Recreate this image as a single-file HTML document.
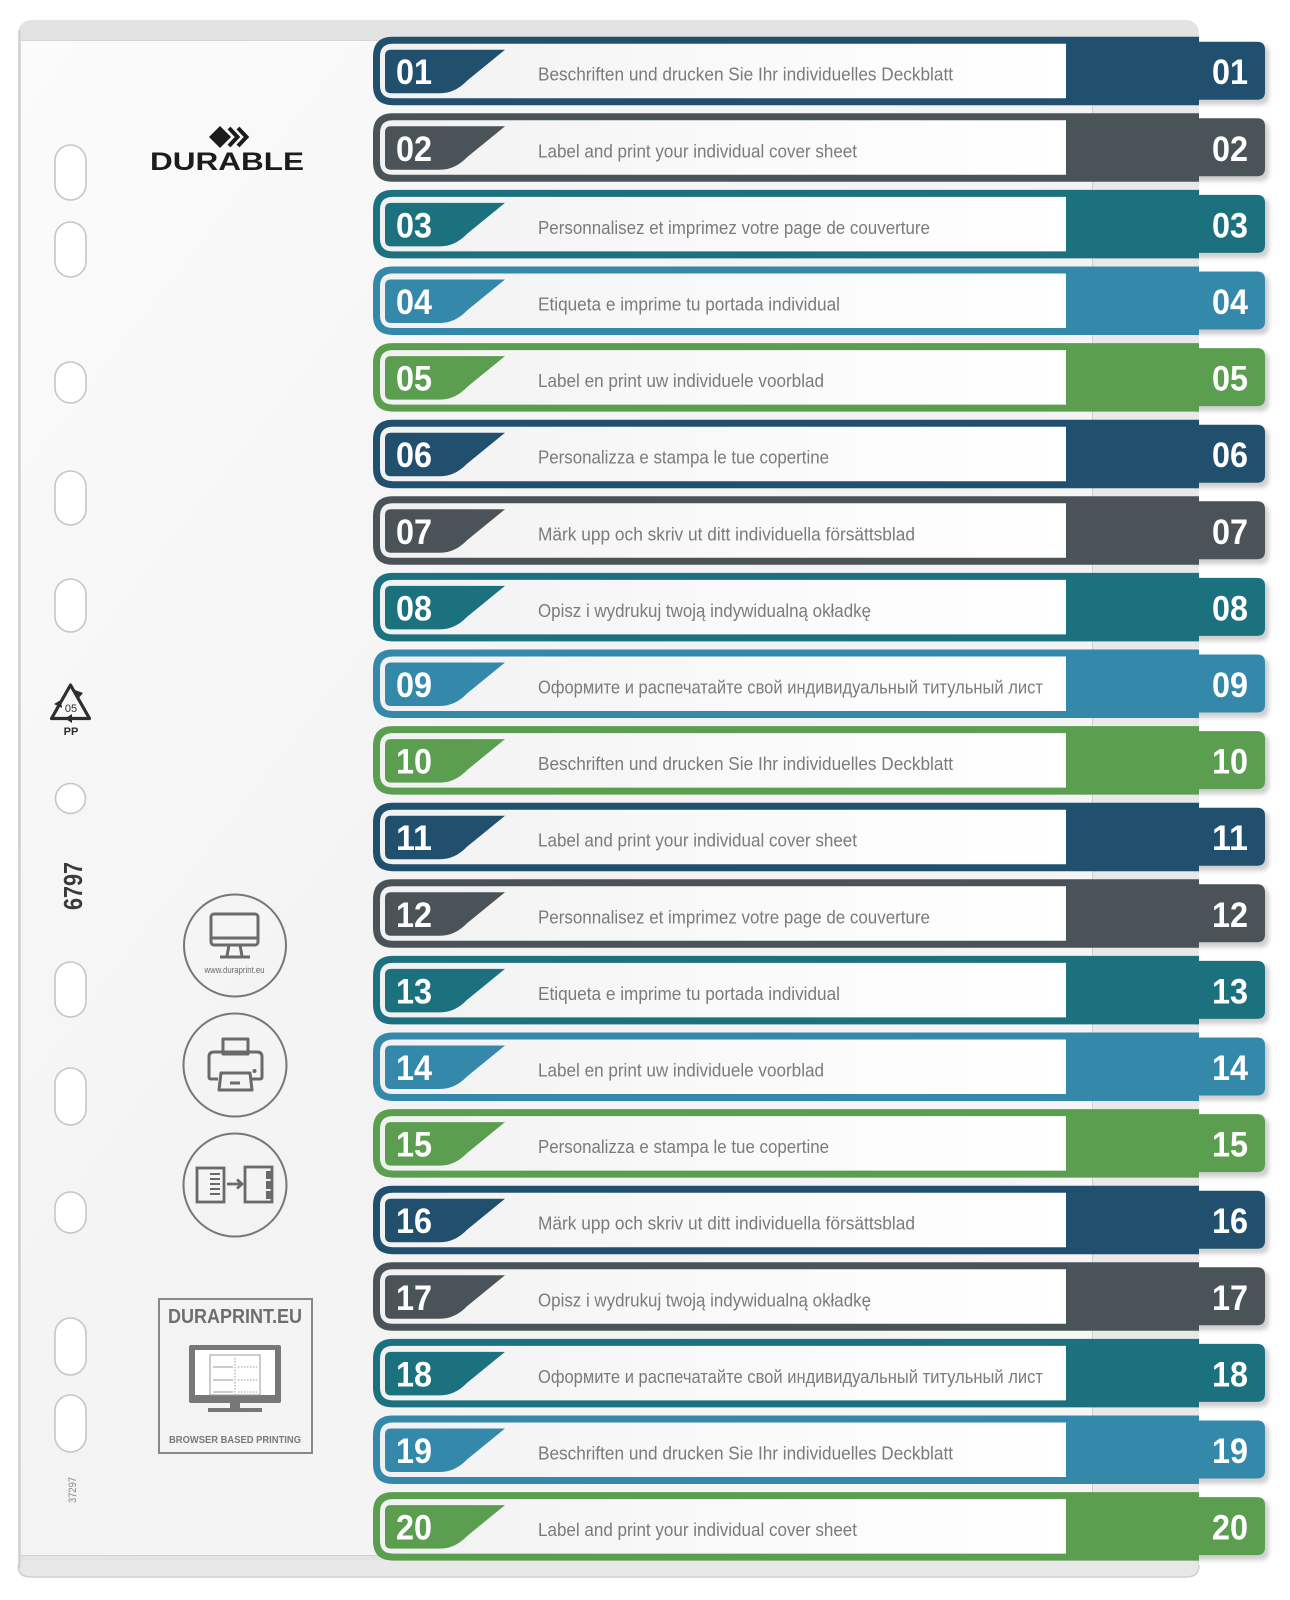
<!DOCTYPE html>
<html>
<head>
<meta charset="utf-8">
<style>
  html,body{margin:0;padding:0;background:#ffffff;}
  svg{display:block;}
  .lbl{font-family:"Liberation Sans","DejaVu Sans",sans-serif;font-size:18px;fill:#7a7b7d;}
  .num{font-family:"Liberation Sans","DejaVu Sans",sans-serif;font-size:35px;font-weight:bold;fill:#ffffff;}
</style>
</head>
<body>
<svg width="1290" height="1600" viewBox="0 0 1290 1600" xmlns="http://www.w3.org/2000/svg">
  <defs>
    <linearGradient id="sheetg" x1="0" y1="0" x2="1" y2="1">
      <stop offset="0" stop-color="#fbfbfb"/>
      <stop offset="0.5" stop-color="#f3f3f3"/>
      <stop offset="1" stop-color="#f7f7f7"/>
    </linearGradient>
    <linearGradient id="innerg" x1="0" y1="0" x2="1" y2="0">
      <stop offset="0" stop-color="#f1f1f1"/>
      <stop offset="0.4" stop-color="#f8f8f8"/>
      <stop offset="1" stop-color="#ffffff"/>
    </linearGradient>
    <filter id="blur" x="-20%" y="-20%" width="140%" height="140%">
      <feGaussianBlur stdDeviation="2"/>
    </filter>
    <path id="bar" d="M393 0 H1199 V68.5 H393 Q373 68.5 373 48.5 V20 Q373 0 393 0 Z"/>
    <path id="inner" fill="url(#innerg)" d="M393 7 H1066 V61.5 H393 Q380 61.5 380 48.5 V20 Q380 7 393 7 Z"/>
    <path id="num" d="M391 13 H505 L467 44 Q455 56.5 440 56.5 H391 Q385 56.5 385 50.5 V19 Q385 13 391 13 Z"/>
    <path id="tab" d="M1195 5 H1257 Q1265 5 1265 13 V55 Q1265 63 1257 63 H1195 Z"/>
    <path id="tabsh" fill="#cfcfcf" filter="url(#blur)" d="M1195 8 H1260 Q1269 8 1269 17 V59 Q1269 68 1260 68 H1195 Z"/>
  </defs>

  <!-- sheet -->
  <rect x="18" y="20" width="1181" height="1557" rx="13" fill="#e3e3e3"/>
  <rect x="18" y="1560" width="1181" height="17" rx="8" fill="#e8e8e8"/>
  <rect x="21" y="40" width="1178" height="1515" fill="url(#sheetg)"/>
  <line x1="21" y1="40.5" x2="1199" y2="40.5" stroke="#d6d6d6" stroke-width="1"/>
  <line x1="19.5" y1="30" x2="19.5" y2="1568" stroke="#cfcfcf" stroke-width="2"/>
  <line x1="21" y1="1555.5" x2="1199" y2="1555.5" stroke="#d2d2d2" stroke-width="1"/>
  <path d="M18 1565 Q18 1577 31 1577 H1186 Q1199 1577 1199 1565" fill="none" stroke="#d0d0d0" stroke-width="1.5"/>
  <!-- right grey strip behind bars -->
  <rect x="1092" y="41" width="107" height="1514" fill="#e9e9e9"/>
  <line x1="1092.5" y1="41" x2="1092.5" y2="1555" stroke="#cfcfcf" stroke-width="1"/>

  <!-- punch holes -->
  <g fill="#ffffff" stroke="#c6c6c6" stroke-width="1.6">
    <rect x="55" y="145" width="31" height="55" rx="15.5"/>
    <rect x="55" y="222" width="31" height="55" rx="15.5"/>
    <rect x="55" y="362" width="31" height="41" rx="15.5"/>
    <rect x="55" y="471" width="31" height="54" rx="15.5"/>
    <rect x="55" y="579" width="31" height="53" rx="15.5"/>
    <circle cx="70.5" cy="798.5" r="15"/>
    <rect x="55" y="962" width="31" height="55" rx="15.5"/>
    <rect x="55" y="1068" width="31" height="57" rx="15.5"/>
    <rect x="55" y="1192" width="31" height="41" rx="15.5"/>
    <rect x="55" y="1318" width="31" height="57" rx="15.5"/>
    <rect x="55" y="1395" width="31" height="57" rx="15.5"/>
  </g>

  <!-- DURABLE logo -->
  <polygon points="209,137 220,126 231,137 220,148" fill="#1c1c1e"/>
  <polyline points="229,128 237.5,137 229,146" fill="none" stroke="#1c1c1e" stroke-width="4"/>
  <polyline points="238,128 246.5,137 238,146" fill="none" stroke="#1c1c1e" stroke-width="4"/>
  <text x="150" y="170" font-family="'Liberation Sans','DejaVu Sans',sans-serif" font-size="25" font-weight="bold" fill="#1c1c1e" textLength="154" lengthAdjust="spacingAndGlyphs">DURABLE</text>

  <!-- recycle symbol -->
  <path d="M70.5 685 L89.5 718.5 L51.5 718.5 Z" fill="none" stroke="#2e2e2e" stroke-width="3.2" stroke-linejoin="round"/>
  <polygon points="75,690 83,693 78,699" fill="#2e2e2e"/>
  <polygon points="72,714 72,723 65,718.5" fill="#2e2e2e"/>
  <polygon points="54,704 61,700 62,708" fill="#2e2e2e"/>
  <text x="71" y="712" text-anchor="middle" font-family="'Liberation Sans',sans-serif" font-size="11" fill="#2e2e2e">05</text>
  <text x="71" y="735" text-anchor="middle" font-family="'Liberation Sans',sans-serif" font-size="11" font-weight="bold" fill="#2e2e2e">PP</text>

  <!-- 6797 -->
  <text transform="translate(82,886) rotate(-90)" text-anchor="middle" font-family="'Liberation Sans',sans-serif" font-size="26" font-weight="bold" fill="#3a3a3a" textLength="48" lengthAdjust="spacingAndGlyphs">6797</text>
  <!-- 37297 -->
  <text transform="translate(76,1490) rotate(-90)" text-anchor="middle" font-family="'Liberation Sans',sans-serif" font-size="11" fill="#8a8a8a" textLength="26" lengthAdjust="spacingAndGlyphs">37297</text>

  <!-- icon circles -->
  <g fill="none" stroke="#777777" stroke-width="2">
    <circle cx="235" cy="945.5" r="51"/>
    <circle cx="235" cy="1065" r="51.5"/>
    <circle cx="235" cy="1185" r="51.5"/>
  </g>
  <!-- monitor icon -->
  <g fill="none" stroke="#6a6a6a" stroke-width="3" stroke-linejoin="round">
    <rect x="211" y="914" width="47" height="31" rx="3"/>
    <line x1="211" y1="938" x2="258" y2="938"/>
    <path d="M229 945 L227 956 M240 945 L242 956"/>
    <line x1="220" y1="957" x2="250" y2="957"/>
  </g>
  <text x="234.5" y="973" text-anchor="middle" font-family="'Liberation Sans',sans-serif" font-size="9" fill="#6a6a6a" textLength="60" lengthAdjust="spacingAndGlyphs">www.duraprint.eu</text>
  <!-- printer icon -->
  <g fill="none" stroke="#6a6a6a" stroke-width="3" stroke-linejoin="round">
    <rect x="223" y="1039" width="25" height="15"/>
    <path d="M218 1079 H211 Q209 1079 209 1077 V1057 Q209 1052 214 1052 H257 Q262 1052 262 1057 V1077 Q262 1079 260 1079 H252"/>
    <path d="M221 1073 H250 L252 1090 H219 Z"/>
    <line x1="230" y1="1083" x2="240" y2="1083"/>
  </g>
  <circle cx="254.5" cy="1071" r="2" fill="#6a6a6a"/>
  <!-- doc -> divider icon -->
  <g fill="none" stroke="#6a6a6a" stroke-width="2.8">
    <rect x="197" y="1168" width="27" height="34"/>
    <rect x="245" y="1167" width="27" height="35"/>
    <path d="M227 1184 H241 M237 1179.5 L242 1184 L237 1188.5"/>
  </g>
  <g stroke="#6a6a6a" stroke-width="2">
    <line x1="210" y1="1174" x2="220" y2="1174"/>
    <line x1="210" y1="1179" x2="220" y2="1179"/>
    <line x1="210" y1="1184" x2="220" y2="1184"/>
    <line x1="210" y1="1189" x2="220" y2="1189"/>
    <line x1="210" y1="1194" x2="220" y2="1194"/>
  </g>
  <g fill="#6a6a6a">
    <rect x="266" y="1171" width="5" height="8"/>
    <rect x="266" y="1181" width="5" height="8"/>
    <rect x="266" y="1191" width="5" height="8"/>
  </g>

  <!-- DURAPRINT box -->
  <rect x="159" y="1299" width="153" height="154" fill="none" stroke="#888888" stroke-width="2"/>
  <text x="168" y="1323" font-family="'Liberation Sans',sans-serif" font-size="20" font-weight="bold" fill="#6e6e6e" textLength="134" lengthAdjust="spacingAndGlyphs">DURAPRINT.EU</text>
  <rect x="189" y="1345" width="92" height="58" rx="2" fill="#777777"/>
  <rect x="195" y="1350" width="80" height="45" fill="#ffffff"/>
  <rect x="210" y="1355" width="50" height="40" fill="#ffffff" stroke="#9a9a9a" stroke-width="1"/>
  <g stroke="#9a9a9a" stroke-width="1">
    <line x1="235" y1="1358" x2="235" y2="1395" stroke-dasharray="1.5 1.5"/>
    <line x1="213" y1="1367" x2="233" y2="1367"/>
    <line x1="213" y1="1380" x2="233" y2="1380"/>
    <line x1="213" y1="1392" x2="233" y2="1392"/>
    <line x1="238" y1="1367" x2="257" y2="1367" stroke-dasharray="1.5 1.5"/>
    <line x1="238" y1="1380" x2="257" y2="1380" stroke-dasharray="1.5 1.5"/>
    <line x1="238" y1="1392" x2="257" y2="1392" stroke-dasharray="1.5 1.5"/>
  </g>
  <rect x="230" y="1403" width="10" height="6" fill="#777777"/>
  <rect x="208" y="1408" width="54" height="4" fill="#777777"/>
  <text x="169" y="1443" font-family="'Liberation Sans',sans-serif" font-size="10.5" font-weight="bold" fill="#7a7a7a" textLength="132" lengthAdjust="spacingAndGlyphs">BROWSER BASED PRINTING</text>

  <!-- ROWS -->
  <g transform="translate(0,36.7)" fill="#21506f">
    <use href="#tabsh"/><use href="#tab"/><use href="#bar"/><use href="#inner"/><use href="#num"/>
    <text class="num" x="396" y="47.5" textLength="36" lengthAdjust="spacingAndGlyphs">01</text>
    <text class="num" x="1212" y="47.5" textLength="36" lengthAdjust="spacingAndGlyphs">01</text>
    <text class="lbl" x="538" y="44" textLength="415" lengthAdjust="spacingAndGlyphs">Beschriften und drucken Sie Ihr individuelles Deckblatt</text>
  </g>
  <g transform="translate(0,113.3)" fill="#4a5358">
    <use href="#tabsh"/><use href="#tab"/><use href="#bar"/><use href="#inner"/><use href="#num"/>
    <text class="num" x="396" y="47.5" textLength="36" lengthAdjust="spacingAndGlyphs">02</text>
    <text class="num" x="1212" y="47.5" textLength="36" lengthAdjust="spacingAndGlyphs">02</text>
    <text class="lbl" x="538" y="44" textLength="319" lengthAdjust="spacingAndGlyphs">Label and print your individual cover sheet</text>
  </g>
  <g transform="translate(0,189.9)" fill="#1c717f">
    <use href="#tabsh"/><use href="#tab"/><use href="#bar"/><use href="#inner"/><use href="#num"/>
    <text class="num" x="396" y="47.5" textLength="36" lengthAdjust="spacingAndGlyphs">03</text>
    <text class="num" x="1212" y="47.5" textLength="36" lengthAdjust="spacingAndGlyphs">03</text>
    <text class="lbl" x="538" y="44" textLength="392" lengthAdjust="spacingAndGlyphs">Personnalisez et imprimez votre page de couverture</text>
  </g>
  <g transform="translate(0,266.5)" fill="#3489aa">
    <use href="#tabsh"/><use href="#tab"/><use href="#bar"/><use href="#inner"/><use href="#num"/>
    <text class="num" x="396" y="47.5" textLength="36" lengthAdjust="spacingAndGlyphs">04</text>
    <text class="num" x="1212" y="47.5" textLength="36" lengthAdjust="spacingAndGlyphs">04</text>
    <text class="lbl" x="538" y="44" textLength="302" lengthAdjust="spacingAndGlyphs">Etiqueta e imprime tu portada individual</text>
  </g>
  <g transform="translate(0,343.1)" fill="#5b9e4f">
    <use href="#tabsh"/><use href="#tab"/><use href="#bar"/><use href="#inner"/><use href="#num"/>
    <text class="num" x="396" y="47.5" textLength="36" lengthAdjust="spacingAndGlyphs">05</text>
    <text class="num" x="1212" y="47.5" textLength="36" lengthAdjust="spacingAndGlyphs">05</text>
    <text class="lbl" x="538" y="44" textLength="286" lengthAdjust="spacingAndGlyphs">Label en print uw individuele voorblad</text>
  </g>
  <g transform="translate(0,419.7)" fill="#21506f">
    <use href="#tabsh"/><use href="#tab"/><use href="#bar"/><use href="#inner"/><use href="#num"/>
    <text class="num" x="396" y="47.5" textLength="36" lengthAdjust="spacingAndGlyphs">06</text>
    <text class="num" x="1212" y="47.5" textLength="36" lengthAdjust="spacingAndGlyphs">06</text>
    <text class="lbl" x="538" y="44" textLength="291" lengthAdjust="spacingAndGlyphs">Personalizza e stampa le tue copertine</text>
  </g>
  <g transform="translate(0,496.3)" fill="#4a5358">
    <use href="#tabsh"/><use href="#tab"/><use href="#bar"/><use href="#inner"/><use href="#num"/>
    <text class="num" x="396" y="47.5" textLength="36" lengthAdjust="spacingAndGlyphs">07</text>
    <text class="num" x="1212" y="47.5" textLength="36" lengthAdjust="spacingAndGlyphs">07</text>
    <text class="lbl" x="538" y="44" textLength="377" lengthAdjust="spacingAndGlyphs">Märk upp och skriv ut ditt individuella försättsblad</text>
  </g>
  <g transform="translate(0,572.9)" fill="#1c717f">
    <use href="#tabsh"/><use href="#tab"/><use href="#bar"/><use href="#inner"/><use href="#num"/>
    <text class="num" x="396" y="47.5" textLength="36" lengthAdjust="spacingAndGlyphs">08</text>
    <text class="num" x="1212" y="47.5" textLength="36" lengthAdjust="spacingAndGlyphs">08</text>
    <text class="lbl" x="538" y="44" textLength="333" lengthAdjust="spacingAndGlyphs">Opisz i wydrukuj twoją indywidualną okładkę</text>
  </g>
  <g transform="translate(0,649.5)" fill="#3489aa">
    <use href="#tabsh"/><use href="#tab"/><use href="#bar"/><use href="#inner"/><use href="#num"/>
    <text class="num" x="396" y="47.5" textLength="36" lengthAdjust="spacingAndGlyphs">09</text>
    <text class="num" x="1212" y="47.5" textLength="36" lengthAdjust="spacingAndGlyphs">09</text>
    <text class="lbl" x="538" y="44" textLength="505" lengthAdjust="spacingAndGlyphs">Оформите и распечатайте свой индивидуальный титульный лист</text>
  </g>
  <g transform="translate(0,726.1)" fill="#5b9e4f">
    <use href="#tabsh"/><use href="#tab"/><use href="#bar"/><use href="#inner"/><use href="#num"/>
    <text class="num" x="396" y="47.5" textLength="36" lengthAdjust="spacingAndGlyphs">10</text>
    <text class="num" x="1212" y="47.5" textLength="36" lengthAdjust="spacingAndGlyphs">10</text>
    <text class="lbl" x="538" y="44" textLength="415" lengthAdjust="spacingAndGlyphs">Beschriften und drucken Sie Ihr individuelles Deckblatt</text>
  </g>
  <g transform="translate(0,802.7)" fill="#21506f">
    <use href="#tabsh"/><use href="#tab"/><use href="#bar"/><use href="#inner"/><use href="#num"/>
    <text class="num" x="396" y="47.5" textLength="36" lengthAdjust="spacingAndGlyphs">11</text>
    <text class="num" x="1212" y="47.5" textLength="36" lengthAdjust="spacingAndGlyphs">11</text>
    <text class="lbl" x="538" y="44" textLength="319" lengthAdjust="spacingAndGlyphs">Label and print your individual cover sheet</text>
  </g>
  <g transform="translate(0,879.3)" fill="#4a5358">
    <use href="#tabsh"/><use href="#tab"/><use href="#bar"/><use href="#inner"/><use href="#num"/>
    <text class="num" x="396" y="47.5" textLength="36" lengthAdjust="spacingAndGlyphs">12</text>
    <text class="num" x="1212" y="47.5" textLength="36" lengthAdjust="spacingAndGlyphs">12</text>
    <text class="lbl" x="538" y="44" textLength="392" lengthAdjust="spacingAndGlyphs">Personnalisez et imprimez votre page de couverture</text>
  </g>
  <g transform="translate(0,955.9)" fill="#1c717f">
    <use href="#tabsh"/><use href="#tab"/><use href="#bar"/><use href="#inner"/><use href="#num"/>
    <text class="num" x="396" y="47.5" textLength="36" lengthAdjust="spacingAndGlyphs">13</text>
    <text class="num" x="1212" y="47.5" textLength="36" lengthAdjust="spacingAndGlyphs">13</text>
    <text class="lbl" x="538" y="44" textLength="302" lengthAdjust="spacingAndGlyphs">Etiqueta e imprime tu portada individual</text>
  </g>
  <g transform="translate(0,1032.5)" fill="#3489aa">
    <use href="#tabsh"/><use href="#tab"/><use href="#bar"/><use href="#inner"/><use href="#num"/>
    <text class="num" x="396" y="47.5" textLength="36" lengthAdjust="spacingAndGlyphs">14</text>
    <text class="num" x="1212" y="47.5" textLength="36" lengthAdjust="spacingAndGlyphs">14</text>
    <text class="lbl" x="538" y="44" textLength="286" lengthAdjust="spacingAndGlyphs">Label en print uw individuele voorblad</text>
  </g>
  <g transform="translate(0,1109.1)" fill="#5b9e4f">
    <use href="#tabsh"/><use href="#tab"/><use href="#bar"/><use href="#inner"/><use href="#num"/>
    <text class="num" x="396" y="47.5" textLength="36" lengthAdjust="spacingAndGlyphs">15</text>
    <text class="num" x="1212" y="47.5" textLength="36" lengthAdjust="spacingAndGlyphs">15</text>
    <text class="lbl" x="538" y="44" textLength="291" lengthAdjust="spacingAndGlyphs">Personalizza e stampa le tue copertine</text>
  </g>
  <g transform="translate(0,1185.7)" fill="#21506f">
    <use href="#tabsh"/><use href="#tab"/><use href="#bar"/><use href="#inner"/><use href="#num"/>
    <text class="num" x="396" y="47.5" textLength="36" lengthAdjust="spacingAndGlyphs">16</text>
    <text class="num" x="1212" y="47.5" textLength="36" lengthAdjust="spacingAndGlyphs">16</text>
    <text class="lbl" x="538" y="44" textLength="377" lengthAdjust="spacingAndGlyphs">Märk upp och skriv ut ditt individuella försättsblad</text>
  </g>
  <g transform="translate(0,1262.3)" fill="#4a5358">
    <use href="#tabsh"/><use href="#tab"/><use href="#bar"/><use href="#inner"/><use href="#num"/>
    <text class="num" x="396" y="47.5" textLength="36" lengthAdjust="spacingAndGlyphs">17</text>
    <text class="num" x="1212" y="47.5" textLength="36" lengthAdjust="spacingAndGlyphs">17</text>
    <text class="lbl" x="538" y="44" textLength="333" lengthAdjust="spacingAndGlyphs">Opisz i wydrukuj twoją indywidualną okładkę</text>
  </g>
  <g transform="translate(0,1338.9)" fill="#1c717f">
    <use href="#tabsh"/><use href="#tab"/><use href="#bar"/><use href="#inner"/><use href="#num"/>
    <text class="num" x="396" y="47.5" textLength="36" lengthAdjust="spacingAndGlyphs">18</text>
    <text class="num" x="1212" y="47.5" textLength="36" lengthAdjust="spacingAndGlyphs">18</text>
    <text class="lbl" x="538" y="44" textLength="505" lengthAdjust="spacingAndGlyphs">Оформите и распечатайте свой индивидуальный титульный лист</text>
  </g>
  <g transform="translate(0,1415.5)" fill="#3489aa">
    <use href="#tabsh"/><use href="#tab"/><use href="#bar"/><use href="#inner"/><use href="#num"/>
    <text class="num" x="396" y="47.5" textLength="36" lengthAdjust="spacingAndGlyphs">19</text>
    <text class="num" x="1212" y="47.5" textLength="36" lengthAdjust="spacingAndGlyphs">19</text>
    <text class="lbl" x="538" y="44" textLength="415" lengthAdjust="spacingAndGlyphs">Beschriften und drucken Sie Ihr individuelles Deckblatt</text>
  </g>
  <g transform="translate(0,1492.1)" fill="#5b9e4f">
    <use href="#tabsh"/><use href="#tab"/><use href="#bar"/><use href="#inner"/><use href="#num"/>
    <text class="num" x="396" y="47.5" textLength="36" lengthAdjust="spacingAndGlyphs">20</text>
    <text class="num" x="1212" y="47.5" textLength="36" lengthAdjust="spacingAndGlyphs">20</text>
    <text class="lbl" x="538" y="44" textLength="319" lengthAdjust="spacingAndGlyphs">Label and print your individual cover sheet</text>
  </g>
</svg>
</body>
</html>
